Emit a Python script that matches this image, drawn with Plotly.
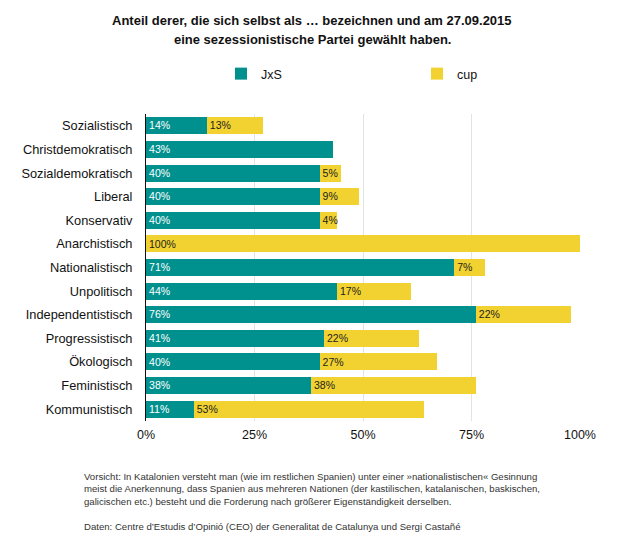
import plotly.graph_objects as go

categories = ["Sozialistisch", "Christdemokratisch", "Sozialdemokratisch", "Liberal",
              "Konservativ", "Anarchistisch", "Nationalistisch", "Unpolitisch",
              "Independentistisch", "Progressistisch", "Ökologisch", "Feministisch",
              "Kommunistisch"]
jxs = [14, 43, 40, 40, 40, 0, 71, 44, 76, 41, 40, 38, 11]
cup = [13, 0, 5, 9, 4, 100, 7, 17, 22, 22, 27, 38, 53]
tick_vals = [0, 25, 50, 75, 100]
tick_text = ["0%", "25%", "50%", "75%", "100%"]
title_lines = [
    "Anteil derer, die sich selbst als … bezeichnen und am 27.09.2015",
    "eine sezessionistische Partei gewählt haben.",
]
footnote_lines = [
    "Vorsicht: In Katalonien versteht man (wie im restlichen Spanien) unter einer »nationalistischen« Gesinnung",
    "meist die Anerkennung, dass Spanien aus mehreren Nationen (der kastilischen, katalanischen, baskischen,",
    "galicischen etc.) besteht und die Forderung nach größerer Eigenständigkeit derselben.",
    "",
    "Daten: Centre d’Estudis d’Opinió (CEO) der Generalitat de Catalunya und Sergi Castañé",
]

FONT = "Liberation Sans, Arial, Helvetica, sans-serif"
TEAL = "#00918f"
YELLOW = "#f2d230"
OFF = 8  # page body margin offset

def labels(vals):
    return [f"{v}%" if v > 0 else "" for v in vals]

fig = go.Figure()
fig.add_trace(go.Bar(
    y=categories, x=jxs, name="JxS", orientation="h", legend="legend", showlegend=True,
    marker=dict(color=TEAL, line=dict(width=0)),
    text=labels(jxs), textposition="inside", insidetextanchor="start",
    textfont=dict(color="white", size=11.5, family=FONT),
    textangle=0, hoverinfo="skip",
))
fig.add_trace(go.Bar(
    y=categories, x=cup, name="cup", orientation="h", legend="legend2", showlegend=True,
    marker=dict(color=YELLOW, line=dict(width=0)),
    text=labels(cup), textposition="inside", insidetextanchor="start",
    textfont=dict(color="#222222", size=11.5, family=FONT),
    textangle=0, hoverinfo="skip",
))

W, H = 620, 550
L, T, PW, PH = 146 - OFF, 114 - OFF, 434, 307
annotations = []
for i, line in enumerate(title_lines):
    annotations.append(dict(
        text=f"<b>{line}</b>", xref="paper", yref="paper",
        x=(312 - OFF - L) / PW, y=(T + PH - (20 + 20 * i - OFF)) / PH,
        xanchor="center", yanchor="middle", showarrow=False,
        font=dict(size=13, family=FONT, color="#111111"),
    ))
for i, line in enumerate(footnote_lines):
    if not line:
        continue
    ypix = 476 + i * 12.7 - OFF
    annotations.append(dict(
        text=line, xref="paper", yref="paper",
        x=(82 - OFF - L) / PW, y=(T + PH - ypix) / PH, xanchor="left", yanchor="middle",
        align="left", showarrow=False,
        font=dict(size=9.6, family=FONT, color="#333333"),
    ))

legend_common = dict(
    orientation="h", xref="container", yref="container",
    y=1 - (74 - OFF) / H, yanchor="middle", visible=True,
    font=dict(size=12.5, family=FONT),
)

fig.update_layout(
    width=W, height=H, showlegend=True,
    margin=dict(l=L, r=W - L - PW, t=T, b=H - T - PH, autoexpand=False),
    barmode="stack", bargap=0.28,
    paper_bgcolor="white", plot_bgcolor="white",
    font=dict(family=FONT, color="#111111", size=12),
    uniformtext=dict(minsize=8, mode="show"),
    legend=dict(x=(240 - OFF - 19) / W, xanchor="left", **legend_common),
    legend2=dict(x=(436 - OFF - 19) / W, xanchor="left", **legend_common),
    xaxis=dict(
        range=[0, 100], tickvals=tick_vals, ticktext=tick_text,
        showgrid=True, gridcolor="#e3e3e3", gridwidth=1,
        zeroline=False, showline=False, ticks="", automargin=False,
        ticklabelstandoff=4,
        tickfont=dict(size=12.5, family=FONT, color="#111111"),
        fixedrange=True,
    ),
    yaxis=dict(
        autorange="reversed", showline=True, linecolor="#111111", linewidth=1,
        ticks="", showgrid=False, automargin=False, ticklabelstandoff=10,
        tickfont=dict(size=12.8, family=FONT, color="#111111"),
        fixedrange=True,
    ),
    annotations=annotations,
)

fig.write_html("out.html")
